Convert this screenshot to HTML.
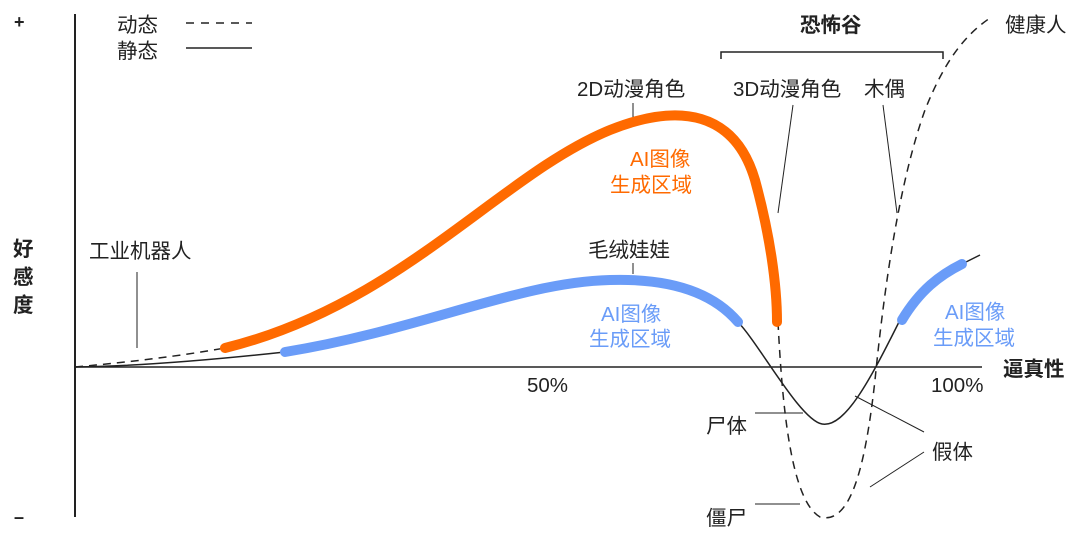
<!DOCTYPE html>
<html><head><meta charset="utf-8"><style>
html,body{margin:0;padding:0;background:#fff;}
svg{display:block;}
text{font-family:"Liberation Sans","Noto Sans CJK SC",sans-serif;font-size:20.5px;fill:#222;}
</style></head><body>
<svg width="1080" height="537" viewBox="0 0 1080 537" xmlns="http://www.w3.org/2000/svg">
<line x1="75" y1="14" x2="75" y2="517" stroke="#222" stroke-width="2"/>
<line x1="75" y1="367" x2="982" y2="367" stroke="#222" stroke-width="1.5"/>
<text x="14" y="28" font-weight="bold" style="font-size:18px">+</text>
<text x="14" y="523" font-weight="bold" style="font-size:18px">–</text>
<text x="13" y="256" font-weight="bold">好</text>
<text x="13" y="284" font-weight="bold">感</text>
<text x="13" y="312" font-weight="bold">度</text>
<text x="1003" y="376" font-weight="bold">逼真性</text>
<text x="527" y="392">50%</text>
<text x="931" y="392">100%</text>
<text x="117" y="32">动态</text>
<text x="117" y="58">静态</text>
<line x1="186" y1="23" x2="252" y2="23" stroke="#222" stroke-width="1.5" stroke-dasharray="8,7"/>
<line x1="186" y1="48" x2="252" y2="48" stroke="#222" stroke-width="1.5"/>
<text x="800" y="32" font-weight="bold">恐怖谷</text>
<path d="M721,59 V52 H943 V59" fill="none" stroke="#222" stroke-width="1.5"/>
<path d="M75,367 C130,362 180,356 225,348" fill="none" stroke="#222" stroke-width="1.5" stroke-dasharray="8,6"/>
<path d="M778,322 C782,400 790,500 820,517 C850,525 865,470 875,380 C885,280 900,180 925,110 C945,60 965,35 990,18" fill="none" stroke="#222" stroke-width="1.5" stroke-dasharray="8,6"/>
<path d="M75,367 C150,366 230,358 285,352" fill="none" stroke="#222" stroke-width="1.5"/>
<path d="M738,322 C760,345 800,420 822,424 C845,428 870,380 900,320" fill="none" stroke="#222" stroke-width="1.5"/>
<path d="M962,264 L980,255" fill="none" stroke="#222" stroke-width="1.5"/>
<path d="M225,348 C400,305 500,175 610,130 C680,102 735,112 755,180 C770,235 777,285 777,322" fill="none" stroke="#ff6a00" stroke-width="10" stroke-linecap="round"/>
<path d="M285,352 C420,330 520,282 610,280 C675,278 715,295 738,322" fill="none" stroke="#6a9cf8" stroke-width="10" stroke-linecap="round"/>
<path d="M902,320 C920,290 940,275 962,264" fill="none" stroke="#6a9cf8" stroke-width="10" stroke-linecap="round"/>
<text x="577" y="96">2D动漫角色</text>
<line x1="633" y1="103" x2="633" y2="117" stroke="#222" stroke-width="1"/>
<text x="733" y="96">3D动漫角色</text>
<text x="864" y="96">木偶</text>
<line x1="793" y1="105" x2="778" y2="213" stroke="#222" stroke-width="1"/>
<line x1="883" y1="105" x2="897" y2="213" stroke="#222" stroke-width="1"/>
<text x="1005" y="32">健康人</text>
<text x="630" y="166" style="fill:#ff6a00">AI图像</text>
<text x="610" y="192" style="fill:#ff6a00">生成区域</text>
<text x="588" y="257">毛绒娃娃</text>
<line x1="633" y1="263" x2="633" y2="274" stroke="#222" stroke-width="1"/>
<text x="601" y="321" style="fill:#6a9cf8">AI图像</text>
<text x="589" y="346" style="fill:#6a9cf8">生成区域</text>
<text x="945" y="319" style="fill:#6a9cf8">AI图像</text>
<text x="933" y="345" style="fill:#6a9cf8">生成区域</text>
<text x="89" y="258">工业机器人</text>
<line x1="137" y1="272" x2="137" y2="348" stroke="#222" stroke-width="1"/>
<text x="706" y="433">尸体</text>
<line x1="755" y1="413" x2="803" y2="413" stroke="#222" stroke-width="1"/>
<text x="706" y="525">僵尸</text>
<line x1="755" y1="504" x2="800" y2="504" stroke="#222" stroke-width="1"/>
<text x="932" y="459">假体</text>
<line x1="855" y1="396" x2="924" y2="432" stroke="#222" stroke-width="1"/>
<line x1="870" y1="487" x2="924" y2="452" stroke="#222" stroke-width="1"/>
</svg>
</body></html>
